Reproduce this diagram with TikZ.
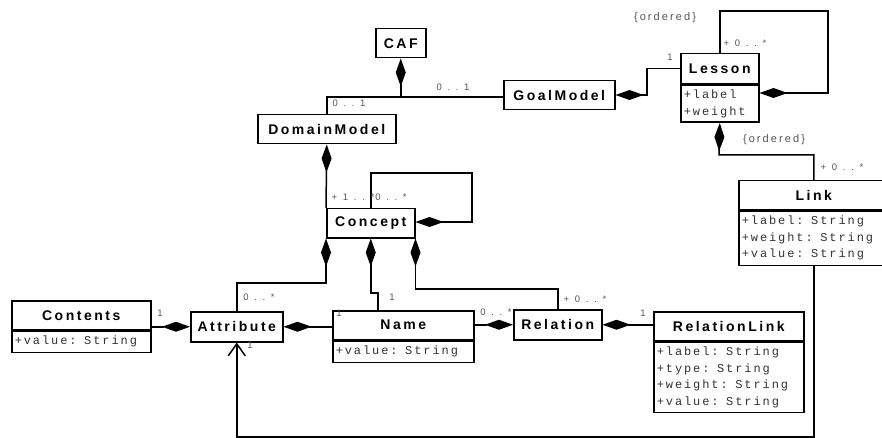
\documentclass[tikz,border=0pt]{standalone}
\usepackage{fontspec}
\usetikzlibrary{arrows.meta}
\newfontfamily\clsfamily[LetterSpace=18]{Liberation Sans}
\newfontfamily\monofam[LetterSpace=16]{Liberation Mono}
\newfontfamily\labfam[LetterSpace=60]{Liberation Sans}
\newfontfamily\ordfam[LetterSpace=19]{Liberation Sans}
\newcommand\msp{\hspace{7.5pt}}
\definecolor{labgray}{HTML}{555555}
\definecolor{attrgray}{HTML}{333333}
\begin{document}
\begin{tikzpicture}[x=1pt,y=-1pt,
  box/.style={draw, line width=1.5pt, inner sep=0pt, anchor=north west, fill=white},
  cname/.style={box, font=\fontsize{14}{16}\selectfont\clsfamily\bfseries},
  cattr/.style={box, inner xsep=3pt, align=left, text=attrgray,
     font=\fontsize{12}{16.5}\selectfont\monofam},
  conn/.style={line width=1.5pt},
  comp/.style={conn, -{Diamond[length=28pt,width=10pt]}},
  inh/.style={conn, -{Straight Barb[length=12pt,width=17pt]}},
  lab/.style={font=\fontsize{9.5}{11}\selectfont\labfam, text=labgray, inner sep=0pt},
  ord/.style={font=\fontsize{11}{13}\selectfont\ordfam, text=labgray, inner sep=0pt}]
\useasboundingbox (0,0) rectangle (882,438);
% classes
\node[cname, minimum width=50pt, minimum height=29pt] (CAF) at (375,28) {CAF};
\node[cname, minimum width=138pt, minimum height=29pt] (DM) at (257,114) {DomainModel};
\node[cname, minimum width=111pt, minimum height=29pt] (GM) at (503,80) {GoalModel};
\node[cname, minimum width=78pt, minimum height=30pt] (LesN) at (680,53) {Lesson};
\node[cattr, minimum width=78pt, text width=72pt, minimum height=37pt] (LesA) at (LesN.south west) {+label\\+weight};
\node[cname, minimum width=150pt, minimum height=29pt] (LinkN) at (738,180) {Link};
\node[cattr, minimum width=150pt, text width=144pt, minimum height=54pt] (LinkA) at (LinkN.south west) {+label:\msp String\\+weight:\msp String\\+value:\msp String};
\node[cname, minimum width=88pt, minimum height=29pt] (Con) at (326,208) {Concept};
\node[cname, minimum width=139pt, minimum height=29pt] (CntN) at (11,300) {Contents};
\node[cattr, minimum width=139pt, text width=133pt, minimum height=21pt] (CntA) at (CntN.south west) {+value:\msp String};
\node[cname, minimum width=92pt, minimum height=30pt] (Att) at (190,311) {Attribute};
\node[cname, minimum width=141pt, minimum height=29pt] (NamN) at (332,310) {Name};
\node[cattr, minimum width=141pt, text width=135pt, minimum height=21pt] (NamA) at (NamN.south west) {+value:\msp String};
\node[cname, minimum width=88pt, minimum height=30pt] (Rel) at (513,309) {Relation};
\node[cname, minimum width=150pt, minimum height=29pt] (RLN) at (653,311) {RelationLink};
\node[cattr, minimum width=150pt, text width=144pt, minimum height=70pt] (RLA) at (RLN.south west) {+label:\msp String\\+type:\msp String\\+weight:\msp String\\+value:\msp String};
% helper coordinates
\coordinate (y97) at (0,97);
\coordinate (j) at (CAF.south |- y97);
\coordinate (g1) at (647,95);
\coordinate (l1) at (828,11);
\coordinate (l2) at (828,93);
\coordinate (k1) at (719,155);
\coordinate (b1) at (0,437);
\coordinate (c1) at (472,173);
\coordinate (c2) at (472,222);
\coordinate (a1) at (0,283);
\coordinate (n1) at (378,293);
\coordinate (r1) at (0,289);
% connectors
\draw[conn] (DM.north) |- (GM.west |- j);
\draw[comp] (j) -- (CAF.south);
\draw[comp] (LesN.west) -| (g1) -- (g1 -| GM.east);
\draw[comp] (LesN.north) |- (l1) -- (l2) -- (l2 -| LesA.east);
\draw[comp] (LinkN.north) |- (k1) -- (LesA.south);
\draw[inh] (LinkA.south) -- (LinkA.south |- b1) -| (Att.south);
\draw[comp] (Con.north west) -- (DM.south);
\draw[comp] (Con.north) |- (c1) -- (c2) -- (c2 -| Con.east);
\draw[comp] (Att.north) |- (a1 -| Con.south west) -- (Con.south west);
\draw[comp] (n1 |- NamN.north) -- (n1) -| (Con.south);
\draw[comp] (Rel.north) |- (r1 -| Con.south east) -- (Con.south east);
\draw[comp] (Att.west -| CntN.east) -- (Att.west);
\draw[comp] (Att.east -| NamN.west) -- (Att.east);
\draw[comp] (Rel.west -| NamN.east) -- (Rel.west);
\draw[comp] (Rel.east -| RLN.west) -- (Rel.east);
% labels
\node[lab] (m1) at (453,87) {0..1};
\node[lab] (m2) at (349,103) {0..1};
\node[lab] (m3) at (670,57) {1};
\node[ord] (o1) at (665,18) {\{ordered\}};
\node[lab] (m4) at (745,43) {+0..*};
\node[ord] (o2) at (774,140) {\{ordered\}};
\node[lab] (m5) at (842,167) {+0..*};
\node[lab] (m6) at (353,197) {+1..*};
\node[lab] (m7) at (391,197) {0..*};
\node[lab] (m8) at (259,297) {0..*};
\node[lab] (m9) at (250,345) {1};
\node[lab] (m10) at (160,313) {1};
\node[lab] (m11) at (339,313) {1};
\node[lab] (m12) at (392,297) {1};
\node[lab] (m13) at (496,312) {0..*};
\node[lab] (m14) at (585,299) {+0..*};
\node[lab] (m15) at (643,313) {1};
\end{tikzpicture}
\end{document}
